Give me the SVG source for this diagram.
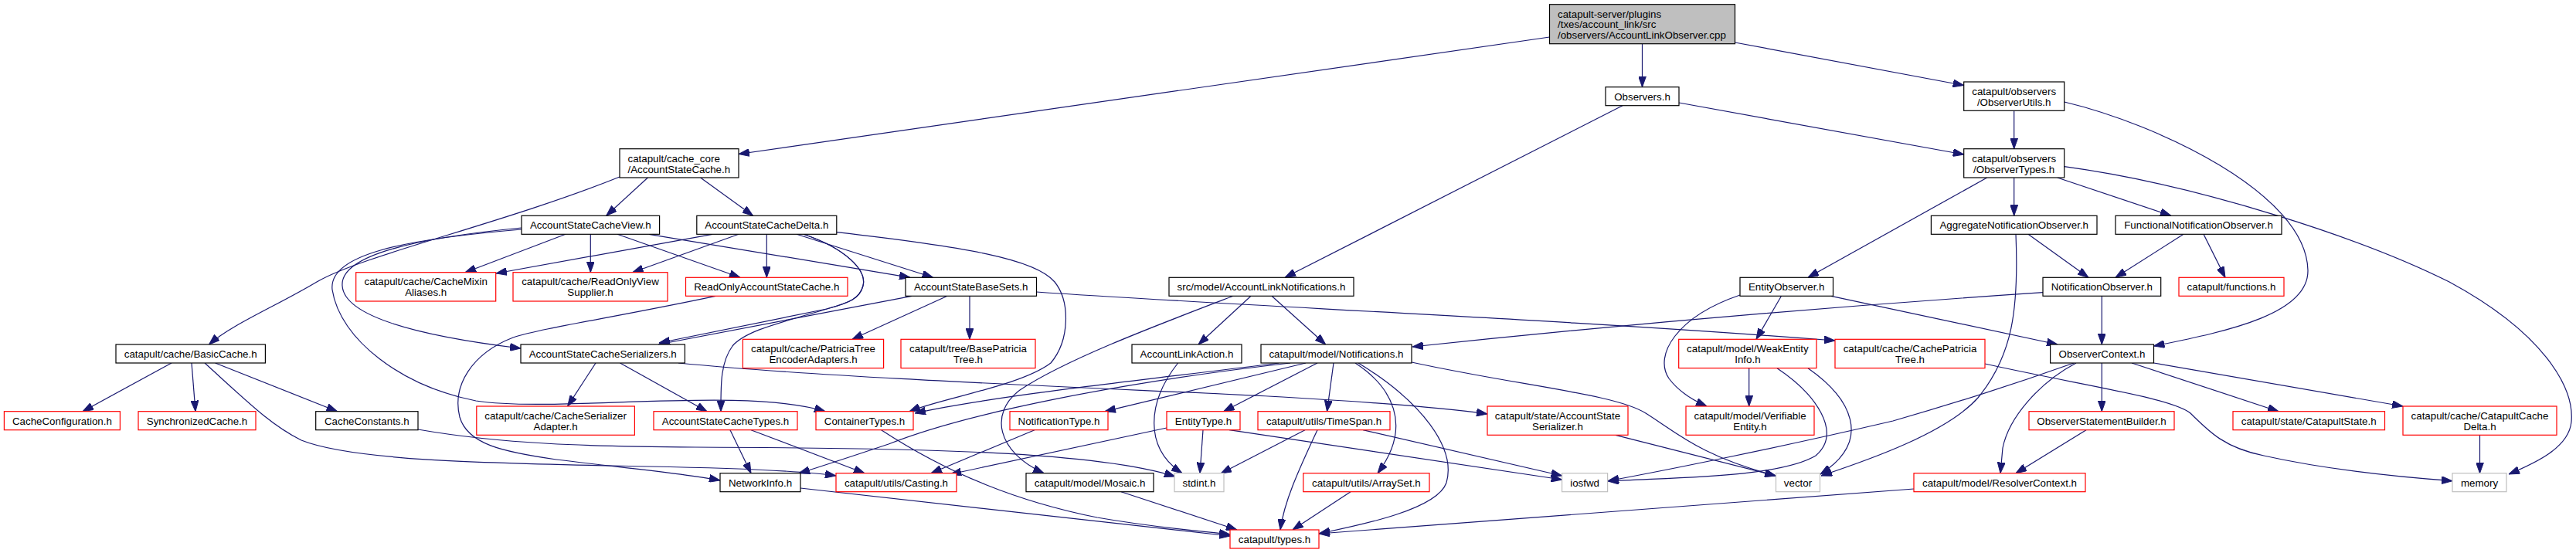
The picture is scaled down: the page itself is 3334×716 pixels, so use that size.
<svg xmlns="http://www.w3.org/2000/svg" width="3334" height="716" viewBox="0 0 3334 716">
<style>
.bg{fill:#ffffff}
.n rect{fill:#ffffff;stroke:#000000;stroke-width:1.2}
.n.r rect{stroke:#ff0000}
.n.g rect{stroke:#bfbfbf}
.n.root rect{fill:#bfbfbf}
.n text{font-family:"Liberation Sans",Arial,Helvetica,sans-serif;font-size:13.33px;fill:#000000;text-anchor:middle}
.n.l text{text-anchor:start}
#edges path{fill:none;stroke:#191970;stroke-width:1.2;marker-end:url(#ah)}
</style>
<defs>
<marker id="ah" markerWidth="14" markerHeight="10" refX="14" refY="5" orient="auto" markerUnits="userSpaceOnUse">
<path d="M0,0 L14,5 L0,10 z" fill="#191970" stroke="#191970" stroke-width="1"/>
</marker>
</defs>
<rect class="bg" x="0" y="0" width="3334" height="716"/>
<g id="edges">
<path d="M2005.5,48 L956,199.5"/>
<path d="M2125.5,56.7 L2125.5,112.7"/>
<path d="M2245.5,55 L2541.7,110.5"/>
<path d="M2100,136.7 L1663,359.3"/>
<path d="M2173,133 L2541.7,200"/>
<path d="M2606.7,143.3 L2606.7,192.7"/>
<path d="M2671.8,132 C2790,160 2985,250 2987,350 C2988,405 2890,428 2787.5,448"/>
<path d="M2671.8,215.7 C2850,240 3060,310 3170,365 C3290,430 3332,500 3328,546 C3325,580 3280,600 3247,614"/>
<path d="M2571.7,230 L2340,359.3"/>
<path d="M2606.7,230 L2606.7,279.3"/>
<path d="M2662.7,230 L2810,279.3"/>
<path d="M838.4,230 L784.7,279.3"/>
<path d="M906.6,230 L974.6,279.3"/>
<path d="M802,229 C650,290 470,330 410,365 C360,395 300,420 270.5,446"/>
<path d="M732,303.3 L602,352.7"/>
<path d="M764.3,303.3 L764.3,352.7"/>
<path d="M799,303.3 L958,359.3"/>
<path d="M840,303.3 L1178,359.3"/>
<path d="M675,295 C540,308 440,330 443,370 C446,420 600,442 674,451"/>
<path d="M675,297 C520,310 425,330 430,375 C440,440 520,500 616,519 C720,535 960,500 1068,532.7"/>
<path d="M922,303.3 L642,354"/>
<path d="M956,303.3 L818.6,352.7"/>
<path d="M992.3,303.3 L992.3,359.3"/>
<path d="M1031,303.3 L1207.6,359.3"/>
<path d="M1040,303.3 C1095,322 1122,350 1117,370 C1113,386 1100,392 1070,400 C1010,418 965,428 948,448 C932,470 933,500 933,532.7"/>
<path d="M1040,303.3 C1095,322 1122,350 1117,370 C1113,386 1100,392 1070,400 L853,444"/>
<path d="M1180,383.3 L852,446"/>
<path d="M1226,383.3 L1103,439.3"/>
<path d="M1255,383.3 L1255,439.3"/>
<path d="M1341.5,378 C1600,396 2000,412 2375,441"/>
<path d="M926,383.3 C800,410 700,425 664,437 C610,458 585,500 595,540 C605,575 650,585 720,595 C800,605 880,612 932,622"/>
<path d="M1083,300.7 C1250,320 1340,335 1365,365 C1385,390 1385,440 1360,470 C1320,500 1220,515 1177,532.7"/>
<path d="M222,470 L107,532.7"/>
<path d="M248,470 L253,532.7"/>
<path d="M278.6,470 L436.6,532.7"/>
<path d="M265,470 C320,520 350,550 390,570 C460,598 650,600 840,604 C950,606 1040,610 1082,616"/>
<path d="M541,556 C650,575 760,578 900,579 C1200,580 1420,585 1521,617"/>
<path d="M771,470 L734.6,526"/>
<path d="M802.5,470 L915,532.7"/>
<path d="M878,470 C1100,492 1500,505 1660,514 C1780,521 1870,528 1925,536"/>
<path d="M945,556.7 L972,612.7"/>
<path d="M972,556.7 L1119,612.7"/>
<path d="M1140.6,556.7 C1230,615 1320,650 1420,670 C1500,684 1560,688 1592,692"/>
<path d="M1036,632 C1250,655 1450,678 1592,694"/>
<path d="M1451,636.7 L1601,686"/>
<path d="M1339,556.7 L1205,612.7"/>
<path d="M1510,554 L1230,614"/>
<path d="M1557,556.7 L1553,612.7"/>
<path d="M1591,556.7 L2021.6,621"/>
<path d="M1689,556.7 L1580,613"/>
<path d="M1705,556.7 C1680,610 1662,650 1657,686"/>
<path d="M1764,556.7 L2021.6,616"/>
<path d="M1524.6,470 C1485,520 1480,580 1530,612.7"/>
<path d="M1619,383.3 L1551,446"/>
<path d="M1646,383.3 L1715.7,446"/>
<path d="M1596,383.3 C1500,420 1380,465 1320,505 C1280,535 1290,585 1351,612.7"/>
<path d="M1655,470 C1500,490 1300,510 1184,535"/>
<path d="M1670,470 C1450,495 1250,535 1150,575 C1090,595 1060,605 1034,612.7"/>
<path d="M1690,470 L1430,532.7"/>
<path d="M1705,470 L1583.6,532.7"/>
<path d="M1726,470 L1717.5,532.7"/>
<path d="M1754,470 C1800,500 1830,550 1783,612.7"/>
<path d="M1758,470 C1840,520 1885,580 1872,625 C1860,660 1760,680 1707,691"/>
<path d="M1827,469 C1970,500 2090,510 2130,535 C2170,560 2200,590 2298,616"/>
<path d="M1748,636.7 L1673,686"/>
<path d="M2091,563.3 L2298,616"/>
<path d="M2305.5,383.3 L2273,439.3"/>
<path d="M2252,382 C2170,410 2140,460 2160,490 C2175,510 2195,520 2209,526"/>
<path d="M2370,383.3 L2663,446"/>
<path d="M2263.7,476.7 L2263.7,526"/>
<path d="M2300,476.7 C2350,510 2385,560 2350,590 C2300,620 2150,618 2081,623"/>
<path d="M2340,476.7 C2395,515 2425,570 2356,614"/>
<path d="M2625,303.3 L2703,359.3"/>
<path d="M2609,303.3 C2613,400 2605,460 2560,515 C2520,560 2420,595 2357,616"/>
<path d="M2826,303.3 L2738,359.3"/>
<path d="M2852,303.3 L2880,359.3"/>
<path d="M2720.3,383.3 L2720.3,446"/>
<path d="M2644,378.7 C2400,395 2100,420 1828,449"/>
<path d="M2720.3,470 L2720.3,532.7"/>
<path d="M2759,470 L2949,532.7"/>
<path d="M2787.5,470 L3110,526"/>
<path d="M2687,470 C2640,495 2600,540 2592,580 L2589,612.7"/>
<path d="M2684,470 C2600,500 2520,525 2450,545 C2300,580 2150,610 2081,622.7"/>
<path d="M2700,556.7 L2609,612.7"/>
<path d="M3209.5,563.3 L3209.5,612.7"/>
<path d="M2569,471 C2700,500 2810,515 2835,535 C2860,560 2880,580 2930,590 C3020,610 3110,618 3174,622.7"/>
<path d="M2477,633 L1707,691"/>
</g>
<g id="root" class="n root l"><rect x="2005.5" y="5.7" width="240" height="51"/><text x="2016" y="22.5">catapult-server/plugins</text><text x="2016" y="36.3">/txes/account_link/src</text><text x="2016" y="50">/observers/AccountLinkObserver.cpp</text></g>
<g id="observers_h" class="n"><rect x="2078" y="112.7" width="95" height="24"/><text x="2125.5" y="129.5">Observers.h</text></g>
<g id="observer_utils" class="n"><rect x="2541.7" y="106" width="130" height="37.3"/><text x="2606.7" y="122.5">catapult/observers</text><text x="2606.7" y="136.5">/ObserverUtils.h</text></g>
<g id="cache_core" class="n l"><rect x="802" y="192.7" width="154" height="37.3"/><text x="812.5" y="209.5">catapult/cache_core</text><text x="812.5" y="223.5">/AccountStateCache.h</text></g>
<g id="observer_types" class="n"><rect x="2541.7" y="192.7" width="130" height="37.3"/><text x="2606.7" y="209.5">catapult/observers</text><text x="2606.7" y="223.5">/ObserverTypes.h</text></g>
<g id="cache_view" class="n"><rect x="675" y="279.3" width="178.6" height="24"/><text x="764.3" y="296.1">AccountStateCacheView.h</text></g>
<g id="cache_delta" class="n"><rect x="901.8" y="279.3" width="181" height="24"/><text x="992.3" y="296.1">AccountStateCacheDelta.h</text></g>
<g id="aggregate_observer" class="n"><rect x="2499.4" y="279.3" width="214.6" height="24"/><text x="2606.7" y="296.1">AggregateNotificationObserver.h</text></g>
<g id="functional_observer" class="n"><rect x="2738" y="279.3" width="215" height="24"/><text x="2845.5" y="296.1">FunctionalNotificationObserver.h</text></g>
<g id="cache_mixin" class="n r"><rect x="460.7" y="352.7" width="181" height="37.3"/><text x="551.2" y="369.1">catapult/cache/CacheMixin</text><text x="551.2" y="383.1">Aliases.h</text></g>
<g id="readonly_view_supplier" class="n r"><rect x="664" y="352.7" width="200" height="37.3"/><text x="764" y="369.1">catapult/cache/ReadOnlyView</text><text x="764" y="383.1">Supplier.h</text></g>
<g id="readonly_cache" class="n r"><rect x="887.5" y="359.3" width="209.5" height="24"/><text x="992.3" y="376.1">ReadOnlyAccountStateCache.h</text></g>
<g id="base_sets" class="n"><rect x="1172" y="359.3" width="169.5" height="24"/><text x="1256.7" y="376.1">AccountStateBaseSets.h</text></g>
<g id="link_notifications" class="n"><rect x="1513" y="359.3" width="239" height="24"/><text x="1632.5" y="376.1">src/model/AccountLinkNotifications.h</text></g>
<g id="entity_observer" class="n"><rect x="2252" y="359.3" width="120.5" height="24"/><text x="2312.2" y="376.1">EntityObserver.h</text></g>
<g id="notification_observer" class="n"><rect x="2644" y="359.3" width="152.7" height="24"/><text x="2720.3" y="376.1">NotificationObserver.h</text></g>
<g id="functions_h" class="n r"><rect x="2820" y="359.3" width="136" height="24"/><text x="2888" y="376.1">catapult/functions.h</text></g>
<g id="basic_cache" class="n"><rect x="150" y="446" width="193.4" height="24"/><text x="246.7" y="462.8">catapult/cache/BasicCache.h</text></g>
<g id="cache_serializers" class="n"><rect x="674" y="446" width="212.4" height="24"/><text x="780.2" y="462.8">AccountStateCacheSerializers.h</text></g>
<g id="patricia_encoder" class="n r"><rect x="961.4" y="439.3" width="182.2" height="37.3"/><text x="1052.5" y="455.8">catapult/cache/PatriciaTree</text><text x="1052.5" y="469.8">EncoderAdapters.h</text></g>
<g id="base_patricia" class="n r"><rect x="1166" y="439.3" width="174" height="37.3"/><text x="1253" y="455.8">catapult/tree/BasePatricia</text><text x="1253" y="469.8">Tree.h</text></g>
<g id="link_action" class="n"><rect x="1465" y="446" width="142" height="24"/><text x="1536" y="462.8">AccountLinkAction.h</text></g>
<g id="notifications_h" class="n"><rect x="1632" y="446" width="195" height="24"/><text x="1729.5" y="462.8">catapult/model/Notifications.h</text></g>
<g id="weak_entity" class="n r"><rect x="2172.7" y="439.3" width="178.3" height="37.3"/><text x="2261.9" y="455.8">catapult/model/WeakEntity</text><text x="2261.9" y="469.8">Info.h</text></g>
<g id="cache_patricia" class="n r"><rect x="2375" y="439.3" width="194" height="37.3"/><text x="2472" y="455.8">catapult/cache/CachePatricia</text><text x="2472" y="469.8">Tree.h</text></g>
<g id="observer_context" class="n"><rect x="2653.6" y="446" width="133.9" height="24"/><text x="2720.5" y="462.8">ObserverContext.h</text></g>
<g id="cache_configuration" class="n r"><rect x="5.4" y="532.7" width="150" height="24"/><text x="80.4" y="549.5">CacheConfiguration.h</text></g>
<g id="synchronized_cache" class="n r"><rect x="179" y="532.7" width="152" height="24"/><text x="255" y="549.5">SynchronizedCache.h</text></g>
<g id="cache_constants" class="n"><rect x="408.7" y="532.7" width="132.3" height="24"/><text x="474.8" y="549.5">CacheConstants.h</text></g>
<g id="serializer_adapter" class="n r"><rect x="616.8" y="526" width="204.6" height="37.3"/><text x="719.1" y="542.5">catapult/cache/CacheSerializer</text><text x="719.1" y="556.5">Adapter.h</text></g>
<g id="cache_types" class="n r"><rect x="846" y="532.7" width="186" height="24"/><text x="939" y="549.5">AccountStateCacheTypes.h</text></g>
<g id="container_types" class="n r"><rect x="1056" y="532.7" width="126" height="24"/><text x="1119" y="549.5">ContainerTypes.h</text></g>
<g id="notification_type" class="n r"><rect x="1307" y="532.7" width="127" height="24"/><text x="1370.5" y="549.5">NotificationType.h</text></g>
<g id="entity_type" class="n r"><rect x="1510" y="532.7" width="95" height="24"/><text x="1557.5" y="549.5">EntityType.h</text></g>
<g id="time_span" class="n r"><rect x="1628" y="532.7" width="171" height="24"/><text x="1713.5" y="549.5">catapult/utils/TimeSpan.h</text></g>
<g id="state_serializer" class="n r"><rect x="1925" y="526" width="182" height="37.3"/><text x="2016" y="542.5">catapult/state/AccountState</text><text x="2016" y="556.5">Serializer.h</text></g>
<g id="verifiable_entity" class="n r"><rect x="2182" y="526" width="166" height="37.3"/><text x="2265" y="542.5">catapult/model/Verifiable</text><text x="2265" y="556.5">Entity.h</text></g>
<g id="statement_builder" class="n r"><rect x="2626" y="532.7" width="188" height="24"/><text x="2720" y="549.5">ObserverStatementBuilder.h</text></g>
<g id="catapult_state" class="n r"><rect x="2890" y="532.7" width="196.5" height="24"/><text x="2988.2" y="549.5">catapult/state/CatapultState.h</text></g>
<g id="catapult_cache_delta" class="n r"><rect x="3110" y="526" width="199" height="37.3"/><text x="3209.5" y="542.5">catapult/cache/CatapultCache</text><text x="3209.5" y="556.5">Delta.h</text></g>
<g id="network_info" class="n"><rect x="932" y="612.7" width="104" height="24"/><text x="984" y="629.5">NetworkInfo.h</text></g>
<g id="casting" class="n r"><rect x="1082" y="612.7" width="156" height="24"/><text x="1160" y="629.5">catapult/utils/Casting.h</text></g>
<g id="mosaic" class="n"><rect x="1328" y="612.7" width="165" height="24"/><text x="1410.5" y="629.5">catapult/model/Mosaic.h</text></g>
<g id="stdint" class="n g"><rect x="1520" y="612.7" width="64" height="24"/><text x="1552" y="629.5">stdint.h</text></g>
<g id="array_set" class="n r"><rect x="1686.8" y="612.7" width="163.2" height="24"/><text x="1768.4" y="629.5">catapult/utils/ArraySet.h</text></g>
<g id="iosfwd" class="n g"><rect x="2021.6" y="612.7" width="59" height="24"/><text x="2051.1" y="629.5">iosfwd</text></g>
<g id="vector" class="n g"><rect x="2298.5" y="612.7" width="57" height="24"/><text x="2327" y="629.5">vector</text></g>
<g id="resolver_context" class="n r"><rect x="2477" y="612.7" width="222" height="24"/><text x="2588" y="629.5">catapult/model/ResolverContext.h</text></g>
<g id="memory" class="n g"><rect x="3174" y="612.7" width="70" height="24"/><text x="3209" y="629.5">memory</text></g>
<g id="types_h" class="n r"><rect x="1592" y="686" width="115" height="24"/><text x="1649.5" y="702.8">catapult/types.h</text></g>
</svg>
